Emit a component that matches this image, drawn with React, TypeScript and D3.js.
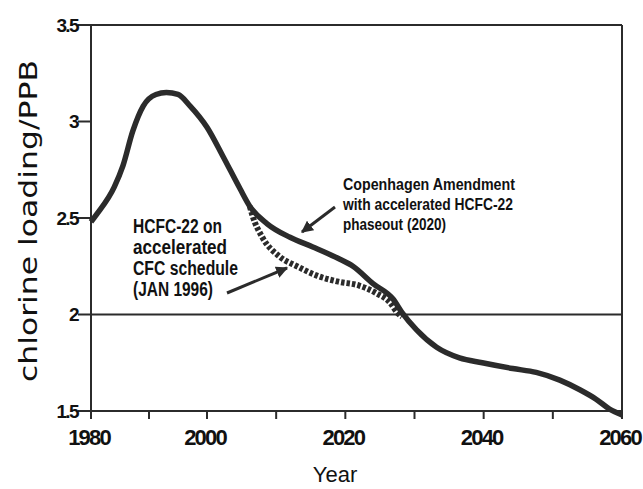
import React, { useEffect, useRef } from 'react';
import * as d3 from 'd3';

// chlorine loading, main scenario (Copenhagen Amendment)
const years = [1980, 1981, 1984, 1985.5, 1987.2, 1989, 1991.2, 1993, 1995, 1997.1, 2000, 2002.3, 2004.8, 2006.2,
  2008.7, 2012, 2015.3, 2019, 2021.1, 2024, 2026.9, 2028.2, 2030.3, 2033.2, 2036.5, 2039.8, 2044.2, 2047.6,
  2051, 2053.9, 2056.3, 2058.2, 2060];
const loading = [2.48, 2.52, 2.66, 2.77, 2.95, 3.08, 3.14, 3.15, 3.14, 3.08, 2.97, 2.82, 2.65, 2.56,
  2.47, 2.4, 2.35, 2.29, 2.25, 2.16, 2.08, 2.01, 1.92, 1.83, 1.775, 1.75, 1.72, 1.7,
  1.66, 1.61, 1.56, 1.51, 1.48];

// HCFC-22 on accelerated CFC schedule
const hcfcYears = [2006.2, 2006.6, 2008, 2010.5, 2013, 2016, 2019, 2022, 2024.5, 2026.5, 2027.5, 2028.2];
const hcfcLoading = [2.56, 2.51, 2.4, 2.3, 2.25, 2.2, 2.17, 2.15, 2.11, 2.06, 2.01, 1.99];

const yTicks = [1.5, 2, 2.5, 3, 3.5];
const yTickLabels = ['1.5', '2', '2.5', '3', '3.5'];
const xMajor = [1980, 2000, 2020, 2040, 2060];
const xMinor = [1990, 2010, 2030, 2050];

const hcfcNote = ['HCFC-22 on', 'accelerated', 'CFC schedule', '(JAN 1996)'];
const copenNote = ['Copenhagen Amendment', 'with accelerated HCFC-22', 'phaseout (2020)'];

const W = 643;
const H = 489;
const ink = '#2b2b2b';

export default function App() {
  const ref = useRef<SVGSVGElement>(null);

  useEffect(() => {
    const svg = d3.select(ref.current);
    svg.selectAll('*').remove();

    // the printed axis is not evenly spaced before 2000
    const x = d3.scaleLinear().domain([1980, 2000, 2060]).range([91, 207, 622]);
    const y = d3.scaleLinear().domain([1.5, 3.5]).range([411, 25]);

    const frame = svg.append('g').attr('stroke', ink).attr('stroke-width', 2).attr('fill', 'none');
    frame.append('line').attr('x1', x(1980)).attr('x2', x(1980)).attr('y1', y(3.5)).attr('y2', y(1.5) + 8);
    frame.append('line').attr('x1', x(2060)).attr('x2', x(2060)).attr('y1', y(3.5)).attr('y2', y(1.5) + 8);
    // full-width lines at 1.5, 2 and 3.5; short ticks elsewhere
    yTicks.forEach(v => {
      const full = v === 1.5 || v === 2 || v === 3.5;
      frame.append('line')
        .attr('x1', x(1980) - 13)
        .attr('x2', full ? x(2060) : x(1980))
        .attr('y1', y(v)).attr('y2', y(v));
    });
    [...xMajor, ...xMinor].forEach(v => {
      frame.append('line').attr('x1', x(v)).attr('x2', x(v)).attr('y1', y(1.5)).attr('y2', y(1.5) + 8);
    });

    svg.append('g')
      .selectAll('text')
      .data(yTicks)
      .join('text')
      .attr('x', x(1980) - 13)
      .attr('y', d => y(d))
      .attr('dy', '0.36em')
      .attr('text-anchor', 'end')
      .attr('font-family', 'Liberation Sans, Arial, sans-serif')
      .attr('font-size', 19)
      .attr('font-weight', 'bold')
      .attr('letter-spacing', -1.6)
      .attr('fill', '#111')
      .text((d, i) => yTickLabels[i]);

    svg.append('g')
      .selectAll('text')
      .data(xMajor)
      .join('text')
      .attr('x', d => x(d) - 2)
      .attr('y', 445)
      .attr('text-anchor', 'middle')
      .attr('font-family', 'Liberation Sans, Arial, sans-serif')
      .attr('font-size', 22)
      .attr('font-weight', 'bold')
      .attr('letter-spacing', -1.8)
      .attr('fill', '#111')
      .text(d => String(d));

    svg.append('text')
      .attr('x', 335).attr('y', 482)
      .attr('text-anchor', 'middle')
      .attr('font-family', 'Liberation Sans, Arial, sans-serif')
      .attr('font-size', 22)
      .attr('fill', '#111')
      .text('Year');

    svg.append('text')
      .attr('transform', 'translate(37,221) rotate(-90)')
      .attr('text-anchor', 'middle')
      .attr('font-family', 'DejaVu Sans, sans-serif')
      .attr('font-size', 24)
      .attr('textLength', 322)
      .attr('lengthAdjust', 'spacingAndGlyphs')
      .attr('fill', '#111')
      .text('chlorine loading/PPB');

    const line = d3.line<number>()
      .x(d => x(d))
      .curve(d3.curveMonotoneX);

    svg.append('path')
      .attr('d', line.y((d, i) => y(hcfcLoading[i]))(hcfcYears))
      .attr('fill', 'none')
      .attr('stroke', ink)
      .attr('stroke-width', 6)
      .attr('stroke-dasharray', '3.5 2');

    svg.append('path')
      .attr('d', line.y((d, i) => y(loading[i]))(years))
      .attr('fill', 'none')
      .attr('stroke', ink)
      .attr('stroke-width', 5.5)
      .attr('stroke-linejoin', 'round');

    // annotations
    const note = (lines: string[], x0: number, y0: number, step: number, size: number, widths: number[]) => {
      svg.append('g')
        .selectAll('text')
        .data(lines)
        .join('text')
        .attr('x', x0)
        .attr('y', (d, i) => y0 + i * step)
        .attr('font-family', 'Liberation Sans, Arial, sans-serif')
        .attr('font-size', size)
        .attr('font-weight', 'bold')
        .attr('textLength', (d, i) => widths[i])
        .attr('lengthAdjust', 'spacingAndGlyphs')
        .attr('fill', '#111')
        .text(d => d);
    };
    note(hcfcNote, 133, 233, 21, 20, [89, 94, 105, 80]);
    note(copenNote, 343, 190, 20, 17, [172, 170, 103]);

    const defs = svg.append('defs');
    defs.append('marker')
      .attr('id', 'head')
      .attr('viewBox', '0 0 10 10')
      .attr('refX', 9).attr('refY', 5)
      .attr('markerWidth', 4).attr('markerHeight', 4)
      .attr('orient', 'auto')
      .append('path')
      .attr('d', 'M0,0 L10,5 L0,10 z')
      .attr('fill', ink);

    svg.append('line')
      .attr('x1', 335).attr('y1', 207).attr('x2', 302).attr('y2', 232)
      .attr('stroke', ink).attr('stroke-width', 3)
      .attr('marker-end', 'url(#head)');
    svg.append('line')
      .attr('x1', 227).attr('y1', 293).attr('x2', 287).attr('y2', 268)
      .attr('stroke', ink).attr('stroke-width', 3)
      .attr('marker-end', 'url(#head)');
  }, []);

  return (
    <svg
      ref={ref}
      width={W}
      height={H}
      style={{ position: 'absolute', left: 0, top: 0, background: '#fff' }}
    />
  );
}
